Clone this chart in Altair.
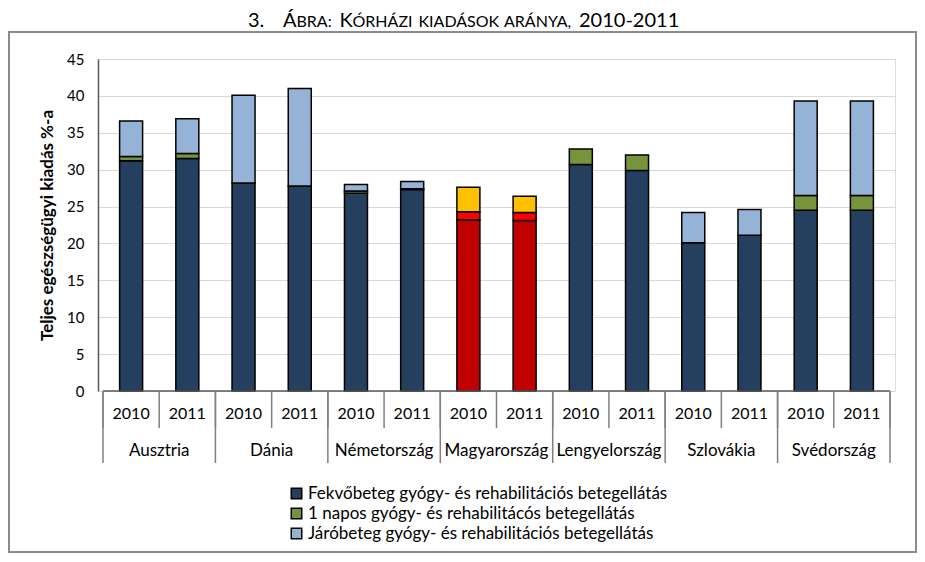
import altair as alt
import pandas as pd

countries = ["Ausztria", "Dánia", "Németország", "Magyarország", "Lengyelország", "Szlovákia", "Svédország"]
years = ["2010", "2011"]
fekvo = [31.2, 31.5, 28.2, 27.8, 26.8, 27.3, 23.2, 23.1, 30.7, 29.9, 20.1, 21.1, 24.5, 24.5]
egynapos = [0.6, 0.7, 0.0, 0.0, 0.3, 0.1, 1.1, 1.1, 2.1, 2.1, 0.0, 0.0, 2.0, 2.0]
jaro = [4.8, 4.7, 11.9, 13.2, 0.9, 1.0, 3.3, 2.2, 0.0, 0.0, 4.1, 3.5, 12.8, 12.8]
series = ["Fekvőbeteg gyógy- és rehabilitációs betegellátás",
          "1 napos gyógy- és rehabilitácós betegellátás",
          "Járóbeteg gyógy- és rehabilitációs betegellátás"]
colors = ["#253F5F", "#77933C", "#95B3D7"]
hu_colors = ["#C00000", "#FF0000", "#FFC000"]
highlight = "Magyarország"
# title "3. Ábra: Kórházi kiadások aránya, 2010-2011" set in small capitals
title_parts = ["3.", "Á", "BRA:", "K", "ÓRHÁZI", "KIADÁSOK", "ARÁNYA,", "2010-2011"]
title_big = [True, True, False, True, False, False, False, True]
y_title = "Teljes egészségügyi kiadás %-a"
y_ticks = [0, 5, 10, 15, 20, 25, 30, 35, 40, 45]

FONT = "Lato"

rows = []
for i, c in enumerate(countries):
    for j, yr in enumerate(years):
        k = 2 * i + j
        for s, vals in enumerate([fekvo, egynapos, jaro]):
            v = vals[k]
            if v <= 0:
                continue
            key = series[s] if c != highlight else series[s] + " (HU)"
            rows.append({"pos": k + 0.5, "orszag": c, "ev": yr, "kat": key, "rend": s, "ertek": v})
df = pd.DataFrame(rows)

domain = series + [s + " (HU)" for s in series]
rng = colors + hu_colors

W, H = 797, 332
nslots = len(countries) * len(years)
xscale = alt.Scale(domain=[0, nslots], nice=False, zero=False)
yscale = alt.Scale(domain=[0, 45], nice=False)
yaxis = alt.Axis(values=y_ticks, tickCount=10, title=y_title, titleFont=FONT,
                 titleFontSize=17, titleFontWeight="bold", titleColor="black",
                 titlePadding=10, labelFont=FONT, labelFontSize=15, labelColor="black",
                 labelPadding=14, labelOverlap=False, labelFlush=False,
                 ticks=False, grid=True, gridColor="#D9D9D9",
                 gridWidth=1.2, domainColor="#595959", domainWidth=1.5)

bars = alt.Chart(df).mark_bar(size=23, stroke="black", strokeWidth=1.5).encode(
    x=alt.X("pos:Q", scale=xscale, axis=None),
    y=alt.Y("ertek:Q", stack="zero", scale=yscale, axis=yaxis),
    color=alt.Color("kat:N", scale=alt.Scale(domain=domain, range=rng),
                    legend=alt.Legend(orient="none", legendX=190, legendY=426, title=None,
                                      values=series, symbolType="square", symbolSize=110,
                                      symbolStrokeColor="black", symbolStrokeWidth=1.5,
                                      labelFont=FONT, labelFontSize=17, labelColor="black",
                                      labelLimit=600, rowPadding=2, labelOffset=3, padding=0)),
    order=alt.Order("rend:Q"),
)

# axis base line
base_df = pd.DataFrame({"a": [0], "b": [nslots], "z": [0]})
baseline = alt.Chart(base_df).mark_rule(color="#595959", strokeWidth=1.5).encode(
    x=alt.X("a:Q", scale=xscale, axis=None), x2="b:Q",
    y=alt.Y("z:Q", scale=yscale, axis=yaxis))

# separators of category axis
sep_df = pd.DataFrame({"b": list(range(nslots + 1))})
seps = alt.Chart(sep_df).mark_rule(color="#808080", strokeWidth=1.5).encode(
    x=alt.X("b:Q", scale=xscale, axis=None), y=alt.value(H), y2=alt.value(369))
seps_long = alt.Chart(sep_df[sep_df["b"] % 2 == 0]).mark_rule(color="#808080", strokeWidth=1.5).encode(
    x=alt.X("b:Q", scale=xscale, axis=None), y=alt.value(H), y2=alt.value(404))

yl = pd.DataFrame([{"pos": 2 * i + j + 0.5, "ev": yr} for i in range(len(countries)) for j, yr in enumerate(years)])
year_labels = alt.Chart(yl).mark_text(font=FONT, fontSize=16, color="black", baseline="middle").encode(
    x=alt.X("pos:Q", scale=xscale, axis=None), y=alt.value(355), text="ev:N")

cl = pd.DataFrame([{"pos": 2 * i + 1, "orszag": c} for i, c in enumerate(countries)])
country_labels = alt.Chart(cl).mark_text(font=FONT, fontSize=17, color="black", baseline="middle").encode(
    x=alt.X("pos:Q", scale=xscale, axis=None), y=alt.value(392), text="orszag:N")

# title pieces (layout offsets relative to plot left, in pixels)
title_x = [150, 185, 198.5, 241.5, 254.5, 320.5, 406, 481]
tdf = pd.DataFrame({"t": title_parts, "xp": title_x,
                    "meret": [20 if b else 16 for b in title_big]})
title = alt.Chart(tdf).mark_text(font=FONT, color="black", baseline="alphabetic", align="left").encode(
    x=alt.X("xp:Q", scale=None, axis=None), y=alt.value(-32),
    size=alt.Size("meret:Q", scale=None, legend=None), text="t:N")

one = pd.DataFrame({"t": ["keret"]})
frame = alt.Chart(one).mark_rect(fill=None, stroke="#8C8C8C", strokeWidth=2).encode(
    x=alt.value(-89), x2=alt.value(818), y=alt.value(-27), y2=alt.value(493))

chart = alt.layer(frame, bars, baseline, seps, seps_long, year_labels, country_labels, title).properties(
    width=W, height=H,
    autosize=alt.AutoSizeParams(type="none"),
    padding={"left": 90, "top": 51, "right": 22, "bottom": 163},
).configure_view(stroke="#808080", strokeWidth=1.5).configure(background="white")

chart.save("out.html", embed_options={"renderer": "svg", "actions": False})
